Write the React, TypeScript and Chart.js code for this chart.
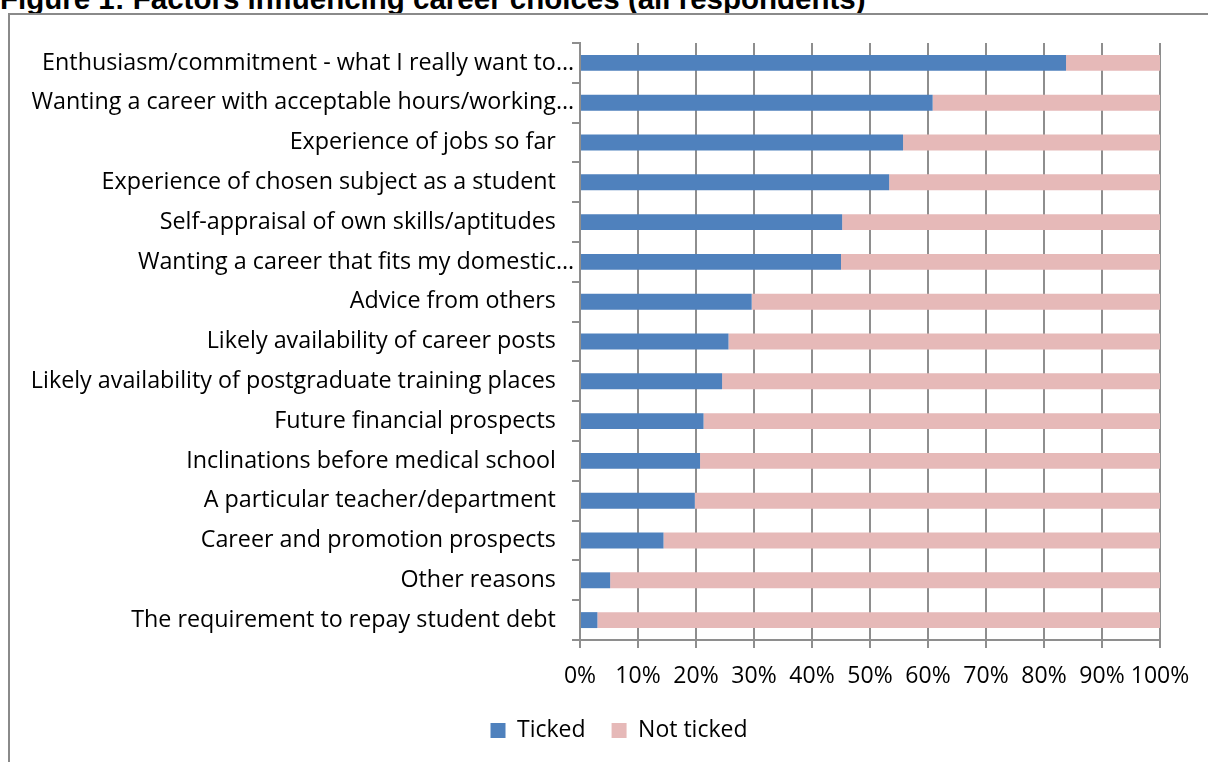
import React, { useEffect, useRef } from "react";
import { Chart, registerables } from "chart.js";

Chart.register(...registerables);

const categories = [
  "Enthusiasm/commitment - what I really want to…",
  "Wanting a career with acceptable hours/working…",
  "Experience of jobs so far",
  "Experience of chosen subject as a student",
  "Self-appraisal of own skills/aptitudes",
  "Wanting a career that fits my domestic…",
  "Advice from others",
  "Likely availability of career posts",
  "Likely availability of postgraduate training places",
  "Future financial prospects",
  "Inclinations before medical school",
  "A particular teacher/department",
  "Career and promotion prospects",
  "Other reasons",
  "The requirement to repay student debt",
];

const ticked = [83.8, 60.8, 55.7, 53.3, 45.2, 45.0, 29.6, 25.6, 24.5, 21.3, 20.7, 19.8, 14.4, 5.2, 3.0];
const notTicked = [16.2, 39.2, 44.3, 46.7, 54.8, 55.0, 70.4, 74.4, 75.5, 78.7, 79.3, 80.2, 85.6, 94.8, 97.0];

const seriesNames = ["Ticked", "Not ticked"];
const xTicks = [0, 10, 20, 30, 40, 50, 60, 70, 80, 90, 100];

const FONT = "'Open Sans', sans-serif";
const GRID = "#8e8e8e";
const CANVAS_W = 1238;

export default function App() {
  const ref = useRef<HTMLCanvasElement | null>(null);

  useEffect(() => {
    if (!ref.current) return;
    const chart = new Chart(ref.current, {
      type: "bar",
      data: {
        labels: categories,
        datasets: [
          {
            label: seriesNames[0],
            data: ticked,
            backgroundColor: "#4f81bd",
            borderWidth: 0,
            barPercentage: 0.4,
            categoryPercentage: 1,
          },
          {
            label: seriesNames[1],
            data: notTicked,
            backgroundColor: "#e6b9b8",
            borderWidth: 0,
            barPercentage: 0.4,
            categoryPercentage: 1,
          },
        ],
      },
      options: {
        indexAxis: "y",
        responsive: false,
        animation: false,
        layout: { padding: { top: 43, right: 0, left: 0, bottom: 10 } },
        plugins: {
          legend: {
            position: "bottom",
            labels: {
              font: { family: FONT, size: 23 },
              color: "#000",
              boxWidth: 15,
              boxHeight: 15,
              padding: 26,
            },
          },
          tooltip: { enabled: false },
        },
        scales: {
          x: {
            stacked: true,
            min: 0,
            max: 100,
            afterBuildTicks: (s: any) => {
              s.ticks = xTicks.map((v) => ({ value: v }));
            },
            afterFit: (s: any) => {
              s.height = 53;
            },
            ticks: {
              font: { family: FONT, size: 23 },
              color: "#000",
              padding: 15,
              maxRotation: 0,
              autoSkip: false,
              callback: (v: any) => v + "%",
            },
            grid: {
              color: GRID,
              lineWidth: 2,
              drawTicks: true,
              tickLength: 8,
            },
            border: { display: true, color: GRID, width: 2 },
          },
          y: {
            stacked: true,
            afterFit: (s: any) => {
              s.width = 580;
            },
            ticks: {
              font: { family: FONT, size: 23.3 },
              color: "#000",
              padding: -2,
              autoSkip: false,
              callback: function (this: any, v: any) {
                const lbl = categories[v as number];
                return lbl.endsWith("…") ? lbl : lbl + "   ";
              },
            },
            grid: {
              color: GRID,
              lineWidth: 2,
              drawOnChartArea: false,
              drawTicks: true,
              tickLength: 8,
              offset: true,
            },
            border: { display: true, color: GRID, width: 2 },
          },
          ySpacer: {
            type: "linear",
            position: "right",
            display: true,
            grid: { display: false },
            ticks: { display: false },
            border: { display: false },
            afterFit: (s: any) => {
              s.width = CANVAS_W - 1160;
            },
          },
        },
      },
    });
    return () => chart.destroy();
  }, []);

  return (
    <div style={{ position: "fixed", left: 0, top: 0, width: 1208, height: 762, overflow: "hidden", background: "#fff" }}>
      <div
        style={{
          position: "absolute",
          left: 0,
          top: -16,
          fontFamily: "'Liberation Sans', Arial, sans-serif",
          fontWeight: "bold",
          fontSize: 29.5,
          lineHeight: "29.5px",
          whiteSpace: "nowrap",
          color: "#000",
        }}
      >
        Figure 1: Factors influencing career choices (all respondents)
      </div>
      <div
        style={{
          position: "absolute",
          left: 8,
          top: 13,
          width: 1300,
          height: 800,
          borderLeft: "2px solid #8a8a8a",
          borderTop: "2px solid #8a8a8a",
        }}
      />
      <canvas ref={ref} width={CANVAS_W} height={762} style={{ position: "absolute", left: 0, top: 0 }} />
    </div>
  );
}
